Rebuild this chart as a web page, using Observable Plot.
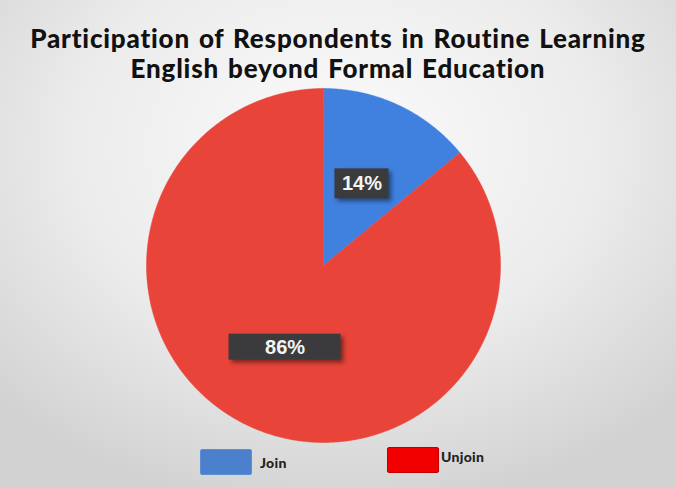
<!DOCTYPE html>
<html><head><meta charset="utf-8">
<script src="https://cdn.jsdelivr.net/npm/d3@7"></script>
<script src="https://cdn.jsdelivr.net/npm/@observablehq/plot@0.6"></script>
<style>
html,body{margin:0;padding:0;}
#wrap{position:relative;width:676px;height:488px;overflow:hidden;
 background:radial-gradient(ellipse 70% 75% at 50% 30%, #fbfbfb 0%, #ececec 55%, #d2d2d2 100%);
 font-family:Lato, "DejaVu Sans", sans-serif;}
#title{position:absolute;left:0;top:23px;width:676px;text-align:center;font-weight:900;font-size:26px;line-height:30px;color:#111;letter-spacing:0.8px;word-spacing:2px;}
#chart{position:absolute;left:0;top:0;}
.sw{position:absolute;width:50px;height:24px;border-radius:2px;}
.lt{position:absolute;font-weight:900;font-size:14px;color:#222;letter-spacing:0.3px;}
</style></head>
<body><div id="wrap">
<div id="chart"></div>
<div id="title">Participation of Respondents in Routine Learning<br>English beyond Formal Education</div>
</div>
<script>
const categories = ["Join", "Unjoin"];
const values = [14, 86];
const labels = ["14%", "86%"];

const sliceColors = ["#4081e0", "#e8443a"];
const legendColors = ["#4a80cc", "#f20000"];

const W = 676, H = 488, cx = 323, cy = 265, R = 177;
const arcs = d3.pie().sort(null)(values);
const pts = [];
arcs.forEach((a, i) => {
  pts.push({cat: categories[i], x: 0, y: 0});
  const n = Math.max(4, Math.ceil((a.endAngle - a.startAngle) / (Math.PI / 360)));
  for (let k = 0; k <= n; k++) {
    const t = a.startAngle + (a.endAngle - a.startAngle) * k / n;
    pts.push({cat: categories[i], x: Math.sin(t), y: Math.cos(t)});
  }
});
const lab = arcs.map((a, i) => {
  const m = (a.startAngle + a.endAngle) / 2;
  const rr = 0.51;
  return {cat: categories[i], label: labels[i], x: rr * Math.sin(m), y: rr * Math.cos(m), hw: (i === 0 ? 27 : 56) / R, hh: (i === 0 ? 15 : 13) / R};
});

const plot = Plot.plot({
  width: W, height: H, margin: 0,
  x: {domain: [-cx / R, (W - cx) / R], axis: null},
  y: {domain: [-(H - cy) / R, cy / R], axis: null},
  color: {domain: categories, range: sliceColors},
  style: {background: "transparent", overflow: "visible"},
  marks: [
    Plot.line(pts, {x: "x", y: "y", z: "cat", fill: "cat", stroke: "cat", strokeWidth: 0.5, curve: "linear-closed"}),
    Plot.rect(lab, {x1: d => d.x - d.hw, x2: d => d.x + d.hw, y1: d => d.y - d.hh, y2: d => d.y + d.hh, fill: "#3b3b3d"}),
    Plot.text(lab, {x: "x", y: "y", text: "label", fill: "#f4f4f4", fontSize: 20, fontWeight: "bold", fontFamily: "'Liberation Sans', Arial, sans-serif"})
  ]
});
d3.select(plot).selectAll("g[aria-label='rect'] rect").style("filter", "drop-shadow(3px 3px 2px rgba(0,0,0,0.45))");
document.getElementById("chart").appendChild(plot);

const wrap = document.getElementById("wrap");
const legPos = [{sx: 200, sy: 449, tx: 260, ty: 454}, {sx: 387, sy: 447, tx: 441, ty: 448}];
categories.forEach((c, i) => {
  const s = document.createElement("div");
  s.className = "sw";
  s.style.left = legPos[i].sx + "px"; s.style.top = legPos[i].sy + "px";
  s.style.background = legendColors[i];
  s.style.border = "1px solid " + (i === 0 ? "#5a8fd8" : "#c00000");
  wrap.appendChild(s);
  const t = document.createElement("div");
  t.className = "lt";
  t.style.left = legPos[i].tx + "px"; t.style.top = legPos[i].ty + "px";
  t.textContent = c;
  wrap.appendChild(t);
});
</script>
</body></html>
